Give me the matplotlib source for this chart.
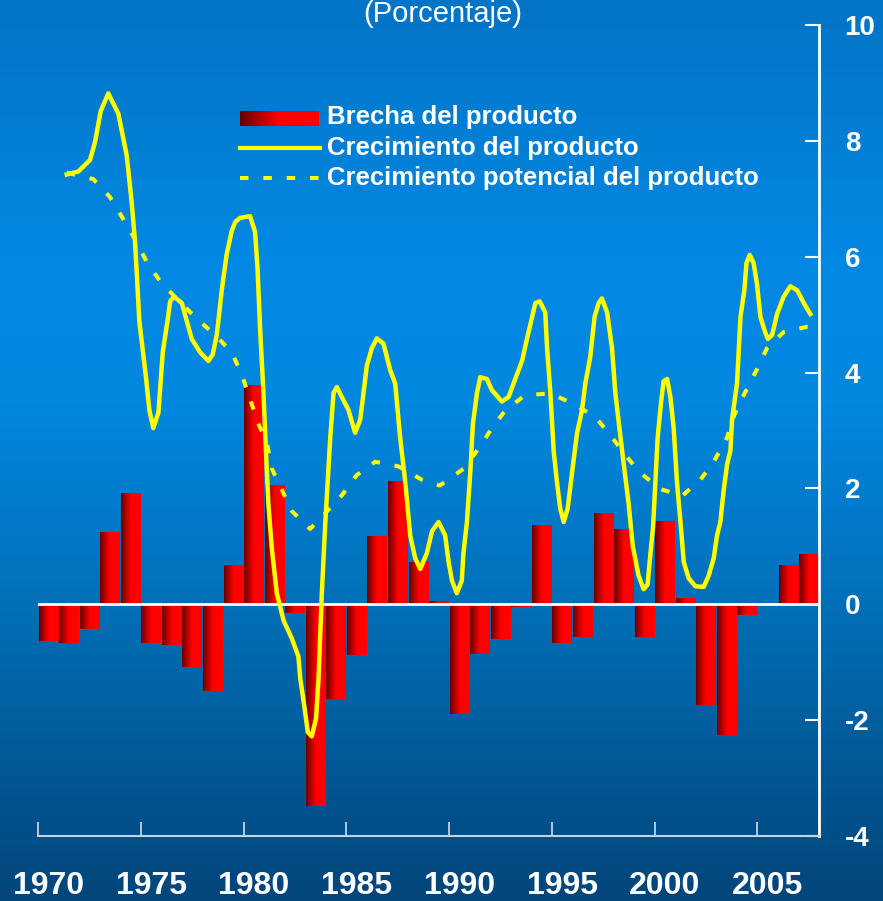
import matplotlib
matplotlib.use("Agg")
import matplotlib.pyplot as plt
import numpy as np
from matplotlib.colors import LinearSegmentedColormap
from matplotlib.lines import Line2D

plt.rcParams["font.family"] = ["Liberation Sans", "DejaVu Sans"]
plt.rcParams["axes.unicode_minus"] = False

# output gap, one bar per year
years = list(range(1970, 2008))
gap = [-0.64, -0.67, -0.43, 1.23, 1.90, -0.67, -0.71, -1.09, -1.50, 0.67,
       3.78, 2.05, -0.15, -3.49, -1.64, -0.87, 1.16, 2.12, 0.72, 0.05,
       -1.90, -0.85, -0.60, -0.05, 1.36, -0.67, -0.57, 1.57, 1.28, -0.57,
       1.42, 0.10, -1.73, -2.26, -0.18, 0.00, 0.67, 0.86]

# output growth (sub-annual)
growth_t = [1971.40, 1971.96, 1972.53, 1972.77, 1973.05, 1973.42, 1973.91, 1974.32,
            1974.56, 1974.72, 1974.93, 1975.24, 1975.42, 1975.61, 1975.86, 1976.07,
            1976.30, 1976.43, 1976.62, 1977.00, 1977.48, 1977.89, 1978.29, 1978.50,
            1978.70, 1978.94, 1979.18, 1979.43, 1979.60, 1979.83, 1980.32, 1980.56,
            1980.68, 1980.81, 1980.97, 1981.10, 1981.21, 1981.38, 1981.62, 1981.95,
            1982.35, 1982.67, 1982.76, 1982.95, 1983.13, 1983.32, 1983.53, 1983.65,
            1983.81, 1983.97, 1984.22, 1984.38, 1984.54, 1984.78, 1985.11, 1985.43,
            1985.68, 1985.84, 1986.00, 1986.24, 1986.49, 1986.81, 1987.14, 1987.38,
            1987.62, 1987.87, 1988.11, 1988.35, 1988.60, 1988.92, 1989.17, 1989.49,
            1989.81, 1989.98, 1990.14, 1990.38, 1990.62, 1990.70, 1990.87, 1991.03,
            1991.16, 1991.36, 1991.52, 1991.84, 1992.08, 1992.57, 1992.90, 1993.22,
            1993.55, 1993.79, 1994.04, 1994.20, 1994.41, 1994.68, 1994.77, 1994.93,
            1995.09, 1995.25, 1995.41, 1995.58, 1995.77, 1995.98, 1996.23, 1996.47,
            1996.63, 1996.87, 1997.08, 1997.28, 1997.44, 1997.69, 1997.93, 1998.09,
            1998.29, 1998.50, 1998.74, 1998.94, 1999.22, 1999.47, 1999.66, 1999.80,
            1999.93, 2000.04, 2000.15, 2000.32, 2000.44, 2000.61, 2000.77, 2000.93,
            2001.09, 2001.26, 2001.42, 2001.66, 2001.99, 2002.39, 2002.63, 2002.88,
            2003.04, 2003.20, 2003.36, 2003.53, 2003.69, 2003.77, 2004.01, 2004.18,
            2004.37, 2004.47, 2004.63, 2004.82, 2004.99, 2005.15, 2005.35, 2005.51,
            2005.72, 2005.96, 2006.28, 2006.61, 2006.94, 2007.26, 2007.58]
growth_v = [7.42, 7.47, 7.67, 7.97, 8.51, 8.82, 8.47, 7.74,
            6.93, 6.27, 4.89, 3.96, 3.35, 3.04, 3.31, 4.35,
            4.89, 5.23, 5.31, 5.20, 4.58, 4.35, 4.20, 4.31,
            4.65, 5.42, 6.04, 6.45, 6.60, 6.67, 6.70, 6.43,
            5.81, 4.73, 3.65, 2.57, 1.73, 0.96, 0.19, -0.28,
            -0.59, -0.90, -1.28, -1.74, -2.21, -2.28, -1.97, -1.28,
            0.19, 1.35, 2.88, 3.65, 3.75, 3.58, 3.35, 2.96,
            3.19, 3.65, 4.12, 4.42, 4.59, 4.50, 4.04, 3.81,
            2.88, 2.11, 1.19, 0.80, 0.61, 0.88, 1.26, 1.42,
            1.19, 0.73, 0.41, 0.19, 0.41, 0.88, 1.42, 2.26,
            3.11, 3.65, 3.92, 3.89, 3.70, 3.50, 3.58, 3.89,
            4.20, 4.58, 4.96, 5.20, 5.23, 5.04, 4.42, 3.65,
            2.65, 2.11, 1.65, 1.42, 1.65, 2.26, 2.96, 3.35,
            3.81, 4.27, 4.96, 5.20, 5.28, 5.04, 4.42, 3.65,
            3.04, 2.42, 1.73, 1.00, 0.50, 0.26, 0.34, 0.88,
            1.35, 2.11, 2.88, 3.50, 3.85, 3.89, 3.58, 3.04,
            2.11, 1.42, 0.73, 0.45, 0.31, 0.30, 0.49, 0.80,
            1.19, 1.42, 1.96, 2.42, 2.65, 3.19, 3.81, 4.96,
            5.43, 5.89, 6.03, 5.89, 5.51, 4.96, 4.73, 4.58,
            4.65, 5.01, 5.31, 5.49, 5.42, 5.20, 5.01]

# potential output growth
potential_t = [1971.40, 1972.69, 1973.50, 1974.15, 1974.77, 1975.32, 1976.02, 1977.72,
               1978.62, 1979.43, 1979.92, 1980.32, 1980.73, 1981.13, 1981.38, 1982.35,
               1983.24, 1983.97, 1984.78, 1985.51, 1986.41, 1987.54, 1988.68, 1989.55,
               1990.71, 1991.44, 1992.09, 1992.74, 1993.71, 1994.93, 1996.06, 1997.12,
               1997.85, 1998.50, 1999.27, 2000.28, 2001.34, 2002.23, 2002.88, 2003.53,
               2003.88, 2004.34, 2004.96, 2005.47, 2006.28, 2007.42, 2007.58]
potential_v = [7.45, 7.34, 7.03, 6.65, 6.27, 5.89, 5.54, 4.93,
               4.65, 4.35, 3.96, 3.54, 3.11, 2.80, 2.34, 1.61,
               1.30, 1.57, 1.88, 2.23, 2.46, 2.38, 2.15, 2.05,
               2.34, 2.69, 3.04, 3.35, 3.61, 3.64, 3.46, 3.23,
               2.92, 2.61, 2.28, 1.99, 1.87, 2.15, 2.46, 2.88,
               3.27, 3.61, 4.04, 4.42, 4.70, 4.79, 4.79]

yticks = [-4, -2, 0, 2, 4, 6, 8, 10]
label_years = [1970, 1975, 1980, 1985, 1990, 1995, 2000, 2005]

W, H = 883, 901
YELLOW = "#ffff00"
bar_cmap = LinearSegmentedColormap.from_list("bar", ["#6a0000", "#ff0000", "#ff0000"])
bg_cmap = LinearSegmentedColormap.from_list(
    "bg", [(0.0, "#0274c6"), (0.30, "#0389e3"), (0.45, "#0287df"),
           (0.70, "#016cb2"), (1.0, "#02457a")])
hgrad = np.linspace(0, 1, 64).reshape(1, -1)

fig = plt.figure(figsize=(W / 100, H / 100), dpi=100)

# background gradient
bg = fig.add_axes([0, 0, 1, 1], zorder=0)
bg.imshow(np.linspace(0, 1, 256).reshape(-1, 1), cmap=bg_cmap, aspect="auto",
          extent=[0, 1, 0, 1], origin="upper")
bg.set_axis_off()

ax = fig.add_axes([38 / W, (H - 836) / H, 781 / W, 811 / H], zorder=1)
ax.set_facecolor("none")

for yr, v in zip(years, gap):
    if v == 0:
        continue
    ax.imshow(hgrad, cmap=bar_cmap, aspect="auto", interpolation="bilinear",
              extent=[yr + 0.03, yr + 0.97, 0, v], zorder=2)

ax.axhline(0, color="white", lw=2, zorder=3)
ax.plot(potential_t, potential_v, color=YELLOW, lw=2.9, dashes=(2.1, 3.7),
        dash_capstyle="butt", zorder=4)
ax.plot(growth_t, growth_v, color=YELLOW, lw=3.2, solid_joinstyle="round", zorder=5)

ax.set_xlim(1970, 2008)
ax.set_ylim(-4, 10)

for s in ["left", "top"]:
    ax.spines[s].set_visible(False)
ax.spines["right"].set_color("white")
ax.spines["right"].set_linewidth(2)
ax.spines["bottom"].set_color("#c3d2e2")
ax.spines["bottom"].set_linewidth(1.5)

ax.yaxis.tick_right()
ax.set_yticks(yticks)
ax.set_yticklabels([str(t) for t in yticks], fontweight="bold")
ax.tick_params(axis="y", direction="in", length=10, width=1.5, color="white",
               labelcolor="white", labelsize=20, pad=18.5)

ax.set_xticks(label_years)
ax.set_xticklabels([])
ax.tick_params(axis="x", which="major", direction="in", length=10, width=1.3,
               color="#c3d2e2")
ax.set_xticks([y + 0.5 for y in label_years], minor=True)
ax.set_xticklabels([str(y) for y in label_years], minor=True, fontweight="bold")
ax.tick_params(axis="x", which="minor", length=0, labelsize=23, labelcolor="white",
               pad=25)

fig.text(443 / W, 1 - 14 / H, "(Porcentaje)", ha="center", va="center",
         fontsize=21, color="white")

# legend, drawn by hand
sw = fig.add_axes([240 / W, 1 - 126 / H, 78 / W, 15 / H], zorder=2)
sw.imshow(hgrad, cmap=bar_cmap, aspect="auto", interpolation="bilinear")
sw.set_axis_off()
fig.add_artist(Line2D([240 / W, 320 / W], [1 - 148 / H] * 2, color=YELLOW, lw=3))
fig.add_artist(Line2D([240 / W, 322 / W], [1 - 178 / H] * 2, color=YELLOW, lw=2.9,
                      dashes=(2.1, 3.7), dash_capstyle="butt"))
for ybase, txt in [(124, "Brecha del producto"), (155, "Crecimiento del producto"),
                   (185, "Crecimiento potencial del producto")]:
    fig.text(327 / W, 1 - ybase / H, txt, ha="left", va="baseline", fontsize=18.5,
             fontweight="bold", color="white")

fig.savefig("out.png", dpi=100)
